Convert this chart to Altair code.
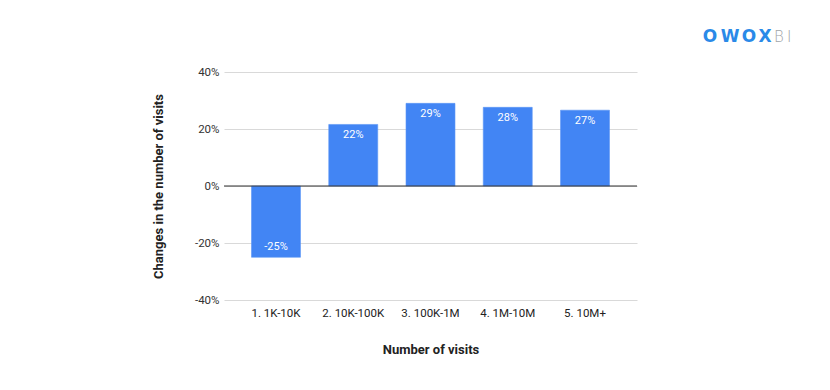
import altair as alt
import pandas as pd

categories = ["1. 1K-10K", "2. 10K-100K", "3. 100K-1M", "4. 1M-10M", "5. 10M+"]
values = [-25.0, 21.6, 29.0, 27.6, 26.6]
labels = ["-25%", "22%", "29%", "28%", "27%"]
y_ticks = [-40, -20, 0, 20, 40]

# logo letters (decoration)
logo_letters = ["O", "W", "O", "X"]
logo_x = [486, 506, 525, 541]
bi_letters = ["B", "I"]
bi_x = [550, 563]

df = pd.DataFrame({"cat": categories, "value": values, "label": labels})

FONT = "Roboto"
BLUE = "#4285F4"

x_enc = alt.X("cat:N", sort=categories,
              scale=alt.Scale(paddingInner=0.366, paddingOuter=0.356),
              axis=alt.Axis(title="Number of visits", labelAngle=0, domain=False, ticks=False,
                            labelPadding=7, labelFontSize=11.5, labelColor="#222222", labelFont=FONT,
                            titleFont=FONT, titleFontSize=13, titleFontWeight="bold",
                            titleColor="#222222", titlePadding=25, grid=False))
y_scale = alt.Scale(domain=[-40, 40], nice=False)

bars = alt.Chart(df).mark_bar(color=BLUE, stroke="#5a95f5", strokeWidth=0.6).encode(
    x=x_enc,
    y=alt.Y("value:Q", scale=y_scale,
            axis=alt.Axis(title="Changes in the number of visits", values=y_ticks,
                          labelExpr="datum.value + '%'", domain=False, ticks=False,
                          labelPadding=5, labelFontSize=11.5, labelColor="#333333", labelFont=FONT,
                          gridColor="#d9d9d9", gridWidth=1,
                          titleFont=FONT, titleFontSize=13, titleFontWeight="bold",
                          titleColor="#222222", titlePadding=29)),
)

zero = alt.Chart(pd.DataFrame({"z": [0]})).mark_rule(color="#333333", strokeWidth=1.2).encode(
    y=alt.Y("z:Q", scale=y_scale)
)

pos_labels = alt.Chart(df).transform_filter("datum.value >= 0").mark_text(
    color="white", font=FONT, fontSize=11, baseline="top", dy=5
).encode(x=alt.X("cat:N", sort=categories), y=alt.Y("value:Q", scale=y_scale), text="label:N")

neg_labels = alt.Chart(df).transform_filter("datum.value < 0").mark_text(
    color="white", font=FONT, fontSize=11, baseline="bottom", dy=-5
).encode(x=alt.X("cat:N", sort=categories), y=alt.Y("value:Q", scale=y_scale), text="label:N")

logo_df = pd.DataFrame({"t": logo_letters, "px": logo_x})
logo1 = alt.Chart(logo_df).mark_text(
    color="#2A8AE8", font="DejaVu Sans", fontWeight="bold", fontSize=17,
    align="center", baseline="middle"
).encode(x=alt.X("px:Q", scale=None), y=alt.value(-35), text="t:N")
bi_df = pd.DataFrame({"t": bi_letters, "px": bi_x})
logo2 = alt.Chart(bi_df).mark_text(
    color="#a0a4a8", font="DejaVu Sans", fontWeight=200, fontSize=15,
    align="left", baseline="middle"
).encode(x=alt.X("px:Q", scale=None), y=alt.value(-35), text="t:N")

chart = alt.layer(bars, zero, pos_labels, neg_labels, logo1, logo2).properties(
    width=413, height=228,
    autosize=alt.AutoSizeParams(type="none"),
    padding={"left": 216, "top": 64, "right": 185, "bottom": 82},
    background="white",
).configure_view(stroke=None)

chart.save("out.html", embed_options={"renderer": "svg", "actions": False})
